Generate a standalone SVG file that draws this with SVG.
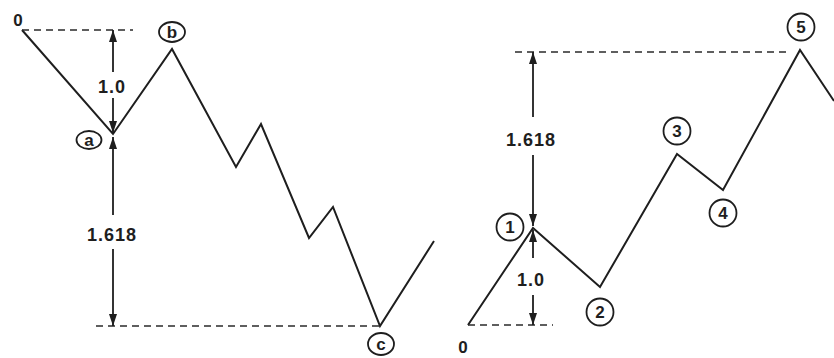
<svg xmlns="http://www.w3.org/2000/svg" width="834" height="358" viewBox="0 0 834 358">
<style>
.wave{fill:none;stroke:#1e1e1e;stroke-width:2;stroke-linejoin:miter}
.dash{fill:none;stroke:#2a2a2a;stroke-width:1.6;stroke-dasharray:7 5}
.dim{fill:none;stroke:#1e1e1e;stroke-width:1.8}
.lbl{font-family:"Liberation Sans",Arial,sans-serif;font-size:18px;font-weight:bold;fill:#1e1e1e;text-anchor:middle;letter-spacing:1px}
.zero{font-family:"Liberation Sans",Arial,sans-serif;font-size:17px;font-weight:bold;fill:#1e1e1e;text-anchor:middle}
.circ{fill:#fff;stroke:#1e1e1e;stroke-width:1.8}
.ct{font-family:"Liberation Sans",Arial,sans-serif;font-size:17px;font-weight:bold;fill:#1e1e1e;text-anchor:middle}
</style>
<defs>
<marker id="ah" viewBox="0 0 12 8" refX="12" refY="4" markerWidth="12" markerHeight="8" markerUnits="userSpaceOnUse" orient="auto">
<path d="M0,0 L12,4 L0,8 z" fill="#1e1e1e"/>
</marker>
</defs>
<rect width="834" height="358" fill="#fff"/>
<g id="connectors">
<polyline class="wave" points="22,30 113,134 172,49 236,167 261,124 309,238 333,207 380,326 434,241"/>
<polyline class="wave" points="468,325 533,228 600,287 677,154 723,190 800,50 834,101"/>
<line class="dash" x1="22" y1="30" x2="133" y2="30"/>
<line class="dash" x1="96" y1="326" x2="380" y2="326"/>
<line class="dash" x1="515" y1="52" x2="790" y2="52"/>
<line class="dash" x1="468" y1="325" x2="553" y2="325"/>
<line class="dim" x1="113" y1="72" x2="113" y2="30" marker-end="url(#ah)"/>
<line class="dim" x1="113" y1="98" x2="113" y2="133" marker-end="url(#ah)"/>
<line class="dim" x1="113" y1="215" x2="113" y2="137" marker-end="url(#ah)"/>
<line class="dim" x1="113" y1="249" x2="113" y2="326" marker-end="url(#ah)"/>
<line class="dim" x1="533" y1="117" x2="533" y2="52" marker-end="url(#ah)"/>
<line class="dim" x1="533" y1="155" x2="533" y2="226" marker-end="url(#ah)"/>
<line class="dim" x1="533" y1="258" x2="533" y2="230" marker-end="url(#ah)"/>
<line class="dim" x1="533" y1="295" x2="533" y2="325" marker-end="url(#ah)"/>
</g>
<g id="dim-left-1"><text class="lbl" x="112" y="93">1.0</text></g>
<g id="dim-left-1618"><text class="lbl" x="112" y="241">1.618</text></g>
<g id="dim-right-1618"><text class="lbl" x="531" y="146">1.618</text></g>
<g id="dim-right-1"><text class="lbl" x="531" y="286">1.0</text></g>
<g id="node-left-0"><text class="zero" x="18" y="26">0</text></g>
<g id="node-a"><ellipse class="circ" cx="89" cy="140" rx="12.5" ry="9"/><text class="ct" x="89" y="146">a</text></g>
<g id="node-b"><ellipse class="circ" cx="172" cy="32" rx="13" ry="10"/><text class="ct" x="172" y="38">b</text></g>
<g id="node-c"><ellipse class="circ" cx="381" cy="344" rx="13" ry="11"/><text class="ct" x="381" y="350">c</text></g>
<g id="node-right-0"><text class="zero" x="463" y="353">0</text></g>
<g id="node-1"><circle class="circ" cx="510" cy="227" r="13.5"/><text class="ct" x="510" y="233">1</text></g>
<g id="node-2"><circle class="circ" cx="600" cy="312" r="13.5"/><text class="ct" x="600" y="318">2</text></g>
<g id="node-3"><circle class="circ" cx="677" cy="131" r="13.5"/><text class="ct" x="677" y="137">3</text></g>
<g id="node-4"><circle class="circ" cx="723" cy="213" r="13.5"/><text class="ct" x="723" y="219">4</text></g>
<g id="node-5"><circle class="circ" cx="801" cy="27" r="13.5"/><text class="ct" x="801" y="33">5</text></g>
</svg>
